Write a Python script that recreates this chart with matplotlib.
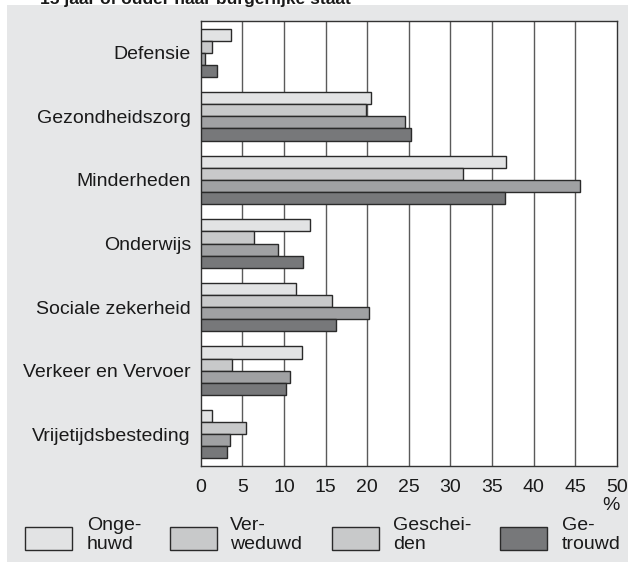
import matplotlib
matplotlib.use("Agg")
import matplotlib.pyplot as plt
from matplotlib.patches import Rectangle
import numpy as np

plt.rcParams['font.family'] = ['Liberation Sans', 'DejaVu Sans']

# data (%)
categories = ["Defensie", "Gezondheidszorg", "Minderheden", "Onderwijs",
              "Sociale zekerheid", "Verkeer en Vervoer", "Vrijetijdsbesteding"]
ongehuwd = [3.6, 20.5, 36.7, 13.1, 11.4, 12.2, 1.3]
verweduwd = [1.3, 19.8, 31.5, 6.4, 15.8, 3.7, 5.4]
gescheiden = [0.5, 24.5, 45.5, 9.3, 20.2, 10.7, 3.5]
getrouwd = [2.0, 25.3, 36.6, 12.3, 16.2, 10.3, 3.1]
series = [ongehuwd, verweduwd, gescheiden, getrouwd]
legend_labels = ["Onge-\nhuwd", "Ver-\nweduwd", "Geschei-\nden", "Ge-\ntrouwd"]
bar_colors = ["#e2e3e4", "#c8c9ca", "#a0a1a3", "#77787a"]
# the legend in the original shows the same swatch for Verweduwd and Gescheiden
legend_colors = ["#e2e3e4", "#c8c9ca", "#c8c9ca", "#77787a"]
xticks = [0, 5, 10, 15, 20, 25, 30, 35, 40, 45, 50]

W, H = 628, 562
fig = plt.figure(figsize=(W / 100, H / 100), dpi=100)
fig.patch.set_facecolor("white")
# grey panel behind everything
fig.patches.append(Rectangle((7 / W, 0), 1 - 7 / W, 1 - 5 / H, transform=fig.transFigure,
                             facecolor="#e6e7e8", edgecolor="none", zorder=-5))

# title, cut off at the top as in the original
fig.text(40 / W, 1 - 4 / H, "15 jaar of ouder naar burgerlijke staat", fontsize=12.5,
         fontweight="bold", ha="left", va="baseline", color="#1a1a1a")

ax = fig.add_axes([200.7 / W, 1 - 466 / H, (617 - 200.7) / W, (466 - 21) / H])
ax.set_zorder(1)
ax.set_facecolor("white")

y = np.arange(len(categories))
h = 0.19
for k, vals in enumerate(series):
    ax.barh(y + (k - 1.5) * h, vals, height=h, color=bar_colors[k],
            edgecolor="#2a2a2a", linewidth=1.0, zorder=3)

ax.set_xlim(0, 50)
ax.set_ylim(len(categories) - 0.5, -0.5)
ax.set_xticks(xticks)
ax.set_xticklabels([str(t) for t in xticks])
ax.set_yticks(y)
ax.set_yticklabels(categories)
ax.tick_params(axis="both", length=0, labelsize=14, colors="#1a1a1a")
ax.tick_params(axis="y", pad=7)
ax.tick_params(axis="x", pad=9)
for t in xticks[1:-1]:
    ax.axvline(t, color="#5a5a5a", linewidth=1.0, zorder=1)
for s in ax.spines.values():
    s.set_color("#333333")
    s.set_linewidth(1.0)

fig.text(620 / W, 1 - 506 / H, "%", fontsize=14, ha="right", va="center", color="#1a1a1a")

# legend drawn by hand, laid out in one row
sw_x = [25, 170, 332, 500]
tx_x = [87, 230, 393, 562]
for k in range(4):
    fig.patches.append(Rectangle((sw_x[k] / W, 1 - 550 / H), 47 / W, 23 / H,
                                 transform=fig.transFigure, facecolor=legend_colors[k],
                                 edgecolor="#2a2a2a", linewidth=1.0, zorder=2))
    fig.text(tx_x[k] / W, 1 - 535 / H, legend_labels[k], fontsize=14, ha="left",
             va="center", linespacing=1.1, color="#1a1a1a")

fig.savefig("out.png", dpi=100)
